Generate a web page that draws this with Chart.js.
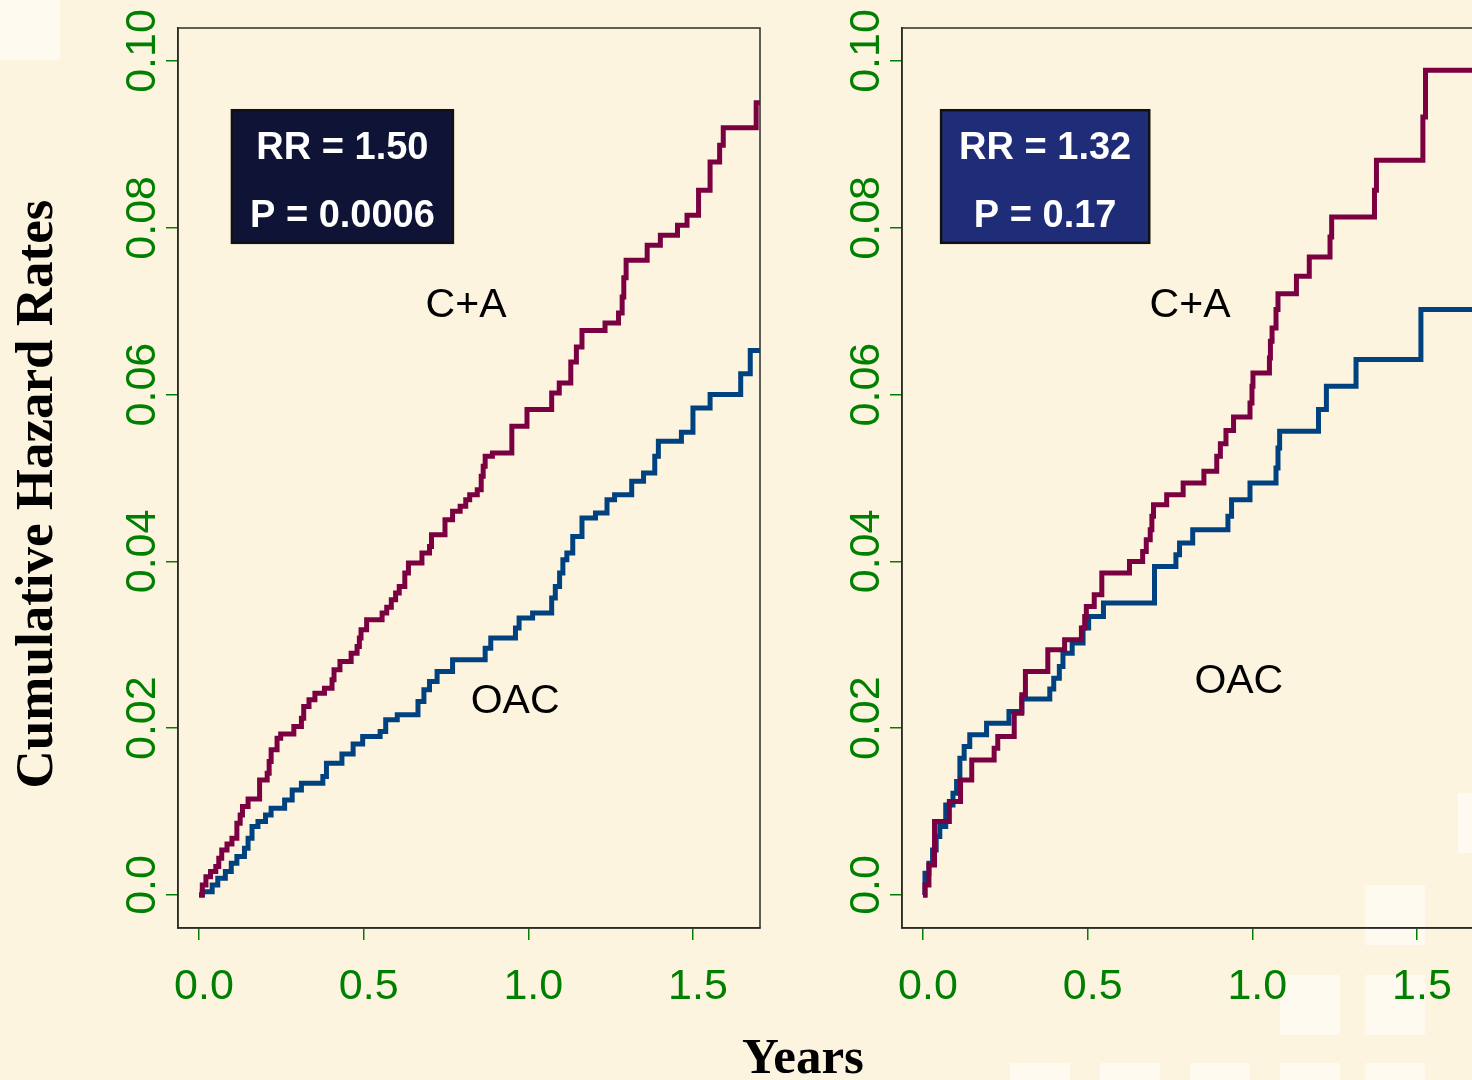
<!DOCTYPE html>
<html>
<head>
<meta charset="utf-8">
<script src="https://cdn.jsdelivr.net/npm/chart.js@4.4.1/dist/chart.umd.min.js"></script>
<style>
html, body { margin: 0; padding: 0; }
body { width: 1472px; height: 1080px; overflow: hidden; background: #fdf4df; position: relative; }
.sq { position: absolute; width: 60px; height: 60px; background: #fffaf0; }
canvas { position: absolute; top: 0; }
#left { left: 0; }
#right { left: 724px; }
</style>
</head>
<body>
<div class="sq" style="left:0;top:0"></div>
<div class="sq" style="left:1365px;top:885px"></div>
<div class="sq" style="left:1280px;top:975px"></div>
<div class="sq" style="left:1365px;top:975px"></div>
<div class="sq" style="left:1458px;top:793px"></div>
<div class="sq" style="left:1010px;top:1063px"></div>
<div class="sq" style="left:1100px;top:1063px"></div>
<div class="sq" style="left:1190px;top:1063px"></div>
<div class="sq" style="left:1280px;top:1063px"></div>
<div class="sq" style="left:1365px;top:1063px"></div>
<canvas id="left" width="900" height="1080"></canvas>
<canvas id="right" width="800" height="1080"></canvas>
<script>
// axis ticks
var xTickVals = [0, 0.5, 1.0, 1.5];
var xTickLabels = ["0.0", "0.5", "1.0", "1.5"];
var yTickVals = [0, 0.02, 0.04, 0.06, 0.08, 0.10];
var yTickLabels = ["0.0", "0.02", "0.04", "0.06", "0.08", "0.10"];

// left panel, C+A (years, cumulative hazard)
var leftCaT = [0, 0.01, 0.021, 0.035, 0.051, 0.06, 0.069, 0.085, 0.1, 0.115, 0.125, 0.132, 0.149, 0.184, 0.207, 0.213, 0.219, 0.237, 0.248, 0.288, 0.311, 0.318, 0.334, 0.352, 0.381, 0.404, 0.41, 0.428, 0.462, 0.48, 0.487, 0.492, 0.509, 0.556, 0.57, 0.584, 0.597, 0.608, 0.625, 0.636, 0.677, 0.7, 0.706, 0.747, 0.77, 0.793, 0.81, 0.822, 0.845, 0.857, 0.863, 0.869, 0.891, 0.95, 0.996, 1.071, 1.094, 1.129, 1.146, 1.163, 1.233, 1.274, 1.285, 1.29, 1.297, 1.361, 1.401, 1.453, 1.482, 1.517, 1.552, 1.581, 1.592, 1.692, 1.703];
var leftCaV = [0, 0.0012, 0.0022, 0.0028, 0.0034, 0.0044, 0.0054, 0.0061, 0.0068, 0.0086, 0.0096, 0.0106, 0.0115, 0.0138, 0.0146, 0.016, 0.0174, 0.0188, 0.0193, 0.0202, 0.0212, 0.0226, 0.0234, 0.0242, 0.0248, 0.0258, 0.027, 0.028, 0.029, 0.0298, 0.0308, 0.0318, 0.033, 0.0338, 0.0345, 0.0354, 0.0362, 0.037, 0.0386, 0.0398, 0.041, 0.0418, 0.0432, 0.045, 0.046, 0.0466, 0.0474, 0.048, 0.0486, 0.0502, 0.0514, 0.0526, 0.053, 0.0562, 0.0582, 0.0602, 0.0614, 0.0639, 0.0657, 0.0677, 0.0686, 0.0698, 0.0717, 0.074, 0.0761, 0.0779, 0.0791, 0.0803, 0.0815, 0.0845, 0.0879, 0.0899, 0.092, 0.095, 0.095];

// left panel, OAC
var leftOacT = [0, 0.01, 0.04, 0.057, 0.08, 0.098, 0.115, 0.138, 0.149, 0.161, 0.179, 0.202, 0.219, 0.26, 0.283, 0.311, 0.376, 0.387, 0.434, 0.468, 0.497, 0.55, 0.567, 0.602, 0.665, 0.683, 0.7, 0.723, 0.77, 0.869, 0.886, 0.961, 0.972, 1.013, 1.071, 1.082, 1.095, 1.105, 1.117, 1.135, 1.163, 1.204, 1.239, 1.262, 1.314, 1.35, 1.384, 1.395, 1.465, 1.5, 1.552, 1.645, 1.674, 1.703];
var leftOacV = [0, 0.0004, 0.0012, 0.002, 0.0028, 0.0038, 0.0046, 0.0056, 0.0068, 0.0082, 0.0088, 0.0096, 0.0104, 0.0114, 0.0126, 0.0134, 0.0142, 0.0158, 0.0169, 0.0181, 0.019, 0.0196, 0.021, 0.0216, 0.0232, 0.0246, 0.0256, 0.0268, 0.0282, 0.0296, 0.0308, 0.032, 0.0332, 0.0338, 0.0356, 0.037, 0.0386, 0.0402, 0.041, 0.043, 0.0452, 0.0458, 0.0474, 0.048, 0.0496, 0.0506, 0.0526, 0.0544, 0.0555, 0.0584, 0.06, 0.0625, 0.0653, 0.0653];

// right panel, C+A
var rightCaT = [0, 0.006, 0.018, 0.035, 0.08, 0.114, 0.148, 0.216, 0.227, 0.277, 0.3, 0.311, 0.379, 0.43, 0.481, 0.491, 0.496, 0.52, 0.543, 0.627, 0.667, 0.678, 0.69, 0.695, 0.7, 0.74, 0.79, 0.853, 0.892, 0.903, 0.92, 0.943, 0.993, 0.999, 1.002, 1.052, 1.055, 1.06, 1.072, 1.078, 1.134, 1.173, 1.236, 1.241, 1.371, 1.377, 1.518, 1.526, 1.75];
var rightCaV = [0, 0.0012, 0.0036, 0.0088, 0.0112, 0.0138, 0.0162, 0.0176, 0.019, 0.0218, 0.024, 0.0268, 0.0294, 0.0306, 0.032, 0.0334, 0.0346, 0.036, 0.0386, 0.04, 0.0412, 0.0426, 0.0438, 0.0454, 0.0468, 0.048, 0.0494, 0.0508, 0.0526, 0.0541, 0.0557, 0.0573, 0.059, 0.061, 0.0626, 0.0644, 0.0664, 0.068, 0.0702, 0.0721, 0.0742, 0.0765, 0.0789, 0.0813, 0.0845, 0.0881, 0.0933, 0.0989, 0.0989];

// right panel, OAC
var rightOacT = [0, 0.006, 0.018, 0.029, 0.04, 0.051, 0.069, 0.091, 0.102, 0.112, 0.125, 0.142, 0.193, 0.261, 0.3, 0.385, 0.397, 0.414, 0.425, 0.453, 0.486, 0.503, 0.548, 0.703, 0.768, 0.779, 0.819, 0.926, 0.937, 0.993, 1.072, 1.078, 1.083, 1.201, 1.225, 1.315, 1.512, 1.75];
var rightOacV = [0, 0.0026, 0.0038, 0.0054, 0.007, 0.0082, 0.0108, 0.0122, 0.0136, 0.0164, 0.0178, 0.0192, 0.0206, 0.022, 0.0235, 0.0247, 0.026, 0.0274, 0.029, 0.0302, 0.032, 0.0334, 0.035, 0.0394, 0.0408, 0.0422, 0.0438, 0.0454, 0.0474, 0.0494, 0.0512, 0.0536, 0.0556, 0.0582, 0.061, 0.0642, 0.0702, 0.0702];

var green = '#008000';
var maroon = '#7a0042';
var blue = '#00427f';

function pts(t, v) {
	var out = [];
	for (var i = 0; i < t.length; i++) out.push({x: t[i], y: v[i]});
	return out;
}

// frame, rotated y labels, stat box, curve labels, axis titles
var decor = {
	id: 'decor',
	afterDraw: function(chart, args, o) {
		var ctx = chart.ctx, a = chart.chartArea, x = chart.scales.x, y = chart.scales.y;
		ctx.save();
		ctx.strokeStyle = '#2b2b2b';
		ctx.lineWidth = 1.5;
		ctx.strokeRect(a.left, a.top, a.right - a.left, a.bottom - a.top);

		ctx.fillStyle = green;
		ctx.font = '43px "Liberation Sans", Arial, sans-serif';
		ctx.textAlign = 'center';
		ctx.textBaseline = 'middle';
		yTickVals.forEach(function(v, i) {
			ctx.save();
			ctx.translate(a.left - 35, y.getPixelForValue(v) - 10);
			ctx.rotate(-Math.PI / 2);
			ctx.fillText(yTickLabels[i], 0, 0);
			ctx.restore();
		});

		// RR / P box
		var bx0 = x.getPixelForValue(o.box[0]), bx1 = x.getPixelForValue(o.box[1]);
		var by0 = y.getPixelForValue(o.box[2]), by1 = y.getPixelForValue(o.box[3]);
		ctx.fillStyle = o.boxColor;
		ctx.fillRect(bx0, by0, bx1 - bx0, by1 - by0);
		ctx.strokeStyle = '#111';
		ctx.lineWidth = 2.5;
		ctx.strokeRect(bx0, by0, bx1 - bx0, by1 - by0);
		ctx.fillStyle = '#ffffff';
		ctx.font = 'bold 38px "Liberation Sans", Arial, sans-serif';
		o.stats.forEach(function(s) {
			ctx.fillText(s[0], (bx0 + bx1) / 2, y.getPixelForValue(s[1]));
		});

		ctx.fillStyle = '#000';
		ctx.font = '41px "Liberation Sans", Arial, sans-serif';
		o.names.forEach(function(s) {
			ctx.fillText(s[0], x.getPixelForValue(s[1]), y.getPixelForValue(s[2]));
		});

		if (o.titles) {
			ctx.textBaseline = 'alphabetic';
			ctx.font = 'bold 53px "Liberation Serif", "Times New Roman", serif';
			ctx.save();
			ctx.translate(52, 494);
			ctx.rotate(-Math.PI / 2);
			ctx.fillText('Cumulative Hazard Rates', 0, 0);
			ctx.restore();
			ctx.font = 'bold 51px "Liberation Serif", "Times New Roman", serif';
			ctx.fillText('Years', 803, 1073);
		}
		ctx.restore();
	}
};

function makeChart(id, caData, oacData, extra, padRight) {
	return new Chart(document.getElementById(id), {
		type: 'line',
		data: {
			datasets: [
				{ label: 'C+A', data: caData, borderColor: maroon, borderWidth: 5, stepped: true, pointRadius: 0, fill: false },
				{ label: 'OAC', data: oacData, borderColor: blue, borderWidth: 5, stepped: true, pointRadius: 0, fill: false }
			]
		},
		options: {
			responsive: false,
			animation: false,
			layout: { padding: { left: 0, right: padRight, top: 28, bottom: 0 } },
			plugins: { legend: { display: false }, tooltip: { enabled: false }, decor: extra },
			scales: {
				x: {
					type: 'linear', min: -0.0638, max: 1.7036,
					afterBuildTicks: function(s) { s.ticks = xTickVals.map(function(v) { return {value: v}; }); },
					afterFit: function(s) { s.height = 152; },
					ticks: {
						autoSkip: false, maxRotation: 0, color: green, padding: 21, labelOffset: 5,
						font: { family: '"Liberation Sans", Arial, sans-serif', size: 43 },
						callback: function(v) { return xTickLabels[xTickVals.indexOf(v)]; }
					},
					grid: { drawOnChartArea: false, drawTicks: true, tickLength: 12, color: green, lineWidth: 1.5 },
					border: { display: true, color: '#2b2b2b', width: 1.5 }
				},
				y: {
					type: 'linear', min: -0.00396, max: 0.10396,
					afterBuildTicks: function(s) { s.ticks = yTickVals.map(function(v) { return {value: v}; }); },
					afterFit: function(s) { s.width = 178; },
					ticks: { callback: function() { return ''; } },
					grid: { drawOnChartArea: false, drawTicks: true, tickLength: 12, color: green, lineWidth: 1.5 },
					border: { display: true, color: '#2b2b2b', width: 1.5 }
				}
			}
		},
		plugins: [decor]
	});
}

makeChart('left', pts(leftCaT, leftCaV), pts(leftOacT, leftOacV), {
	box: [0.1, 0.771, 0.0941, 0.0782], boxColor: '#0f1437',
	stats: [['RR = 1.50', 0.0895], ['P = 0.0006', 0.0814]],
	names: [['C+A', 0.811, 0.0707], ['OAC', 0.96, 0.0232]],
	titles: true
}, 140);

makeChart('right', pts(rightCaT, rightCaV), pts(rightOacT, rightOacV), {
	box: [0.055, 0.687, 0.0941, 0.0782], boxColor: '#1f2d78',
	stats: [['RR = 1.32', 0.0895], ['P = 0.17', 0.0814]],
	names: [['C+A', 0.811, 0.0707], ['OAC', 0.959, 0.0256]],
	titles: false
}, 40);
</script>
</body>
</html>
